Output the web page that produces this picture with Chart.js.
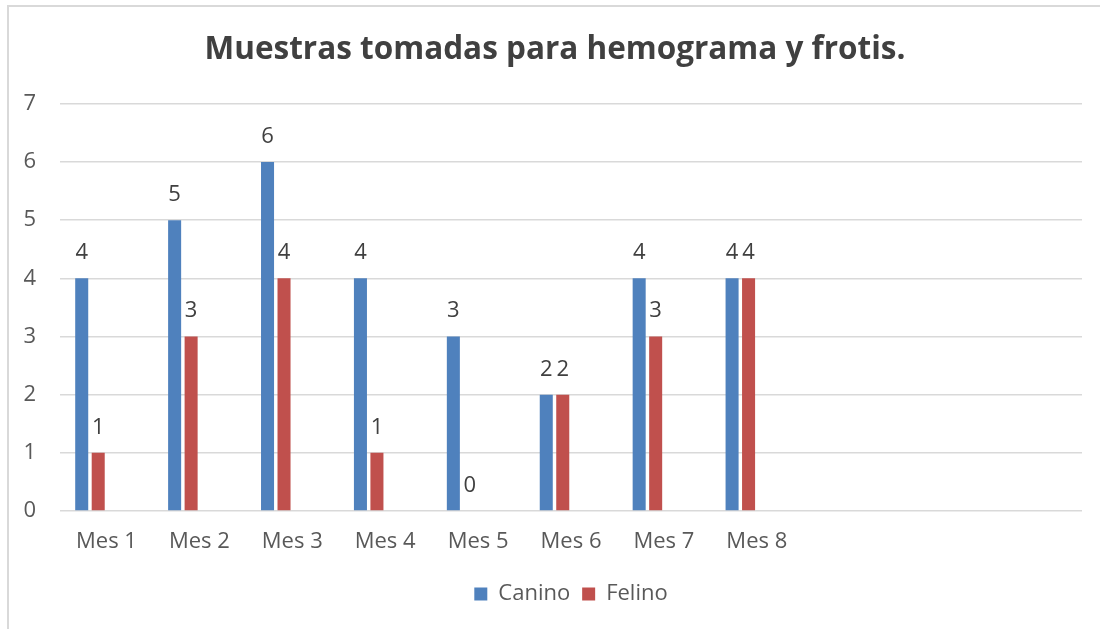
<!DOCTYPE html>
<html>
<head>
<meta charset="utf-8">
<script src="https://cdn.jsdelivr.net/npm/chart.js@4/dist/chart.umd.min.js"></script>
<style>
    body { margin: 0; background: #ffffff; }
    #wrap { position: relative; width: 1100px; height: 629px; }
    #frame {
        position: absolute; left: 7px; top: 5px; right: 0; bottom: 0;
        border-top: 2px solid #d9d9d9; border-left: 2px solid #d9d9d9;
    }
    #chart { position: absolute; left: 0; top: 0; }
</style>
</head>
<body>
<div id="wrap">
    <div id="frame"></div>
    <canvas id="chart" width="1100" height="629"></canvas>
</div>
<script>
const months = ["Mes 1", "Mes 2", "Mes 3", "Mes 4", "Mes 5", "Mes 6", "Mes 7", "Mes 8", "", "", ""];
const canino = [4, 5, 6, 4, 3, 2, 4, 4, null, null, null];
const felino = [1, 3, 4, 1, 0, 2, 3, 4, null, null, null];
const emptySeries = [null, null, null, null, null, null, null, null, null, null, null];
const yTicks = [0, 1, 2, 3, 4, 5, 6, 7];

const FONT = "'Open Sans', sans-serif";

// values written above each bar
const barValues = {
    id: 'barValues',
    afterDatasetsDraw(chart) {
        const ctx = chart.ctx;
        ctx.save();
        ctx.font = '22px ' + FONT;
        ctx.fillStyle = '#404040';
        ctx.textAlign = 'center';
        ctx.textBaseline = 'alphabetic';
        chart.data.datasets.forEach(function(ds, i) {
            const meta = chart.getDatasetMeta(i);
            meta.data.forEach(function(bar, j) {
                const v = ds.data[j];
                if (v === null || v === undefined) return;
                ctx.fillText(String(v), bar.x, bar.y - 19);
            });
        });
        ctx.restore();
    }
};

new Chart(document.getElementById('chart').getContext('2d'), {
    type: 'bar',
    data: {
        labels: months,
        datasets: [
            { label: 'Canino', data: canino, backgroundColor: '#4f81bd' },
            { label: 'Felino', data: felino, backgroundColor: '#c0504d' },
            { label: '', data: emptySeries, backgroundColor: '#9bbb59' },
            { label: '', data: emptySeries, backgroundColor: '#8064a2' }
        ]
    },
    options: {
        responsive: false,
        animation: false,
        categoryPercentage: 0.71,
        barPercentage: 0.79,
        layout: { padding: { left: 10, right: 0, top: 0, bottom: 14 } },
        plugins: {
            title: {
                display: true,
                text: 'Muestras tomadas para hemograma y frotis.',
                color: '#404040',
                font: { family: FONT, size: 31.5, weight: 'bold', lineHeight: 1.2 },
                padding: { top: 31, bottom: 35 }
            },
            legend: {
                position: 'bottom',
                fullSize: false,
                labels: {
                    color: '#595959',
                    font: { family: FONT, size: 22 },
                    boxWidth: 13,
                    boxHeight: 13,
                    padding: 12,
                    filter: function(item) { return item.text !== ''; }
                }
            },
            tooltip: { enabled: false }
        },
        scales: {
            x: {
                afterFit: function(scale) { scale.height = 60; },
                grid: { display: false, drawTicks: false },
                border: { display: false },
                ticks: {
                    color: '#595959',
                    font: { family: FONT, size: 22 },
                    padding: 18,
                    maxRotation: 0,
                    autoSkip: false
                }
            },
            y: {
                min: 0,
                max: 7,
                afterFit: function(scale) { scale.width = 50; },
                afterBuildTicks: function(scale) {
                    scale.ticks = yTicks.map(function(v) { return { value: v }; });
                },
                grid: { color: '#d9d9d9', lineWidth: 1.5, drawTicks: false },
                border: { display: false },
                ticks: {
                    color: '#595959',
                    font: { family: FONT, size: 22 },
                    padding: 24
                }
            },
            // blank right margin so the title centres like the original
            yRight: {
                position: 'right',
                min: 0,
                max: 7,
                afterFit: function(scale) { scale.width = 18; },
                grid: { display: false, drawTicks: false },
                border: { display: false },
                ticks: { display: false }
            }
        }
    },
    plugins: [barValues]
});
</script>
</body>
</html>
